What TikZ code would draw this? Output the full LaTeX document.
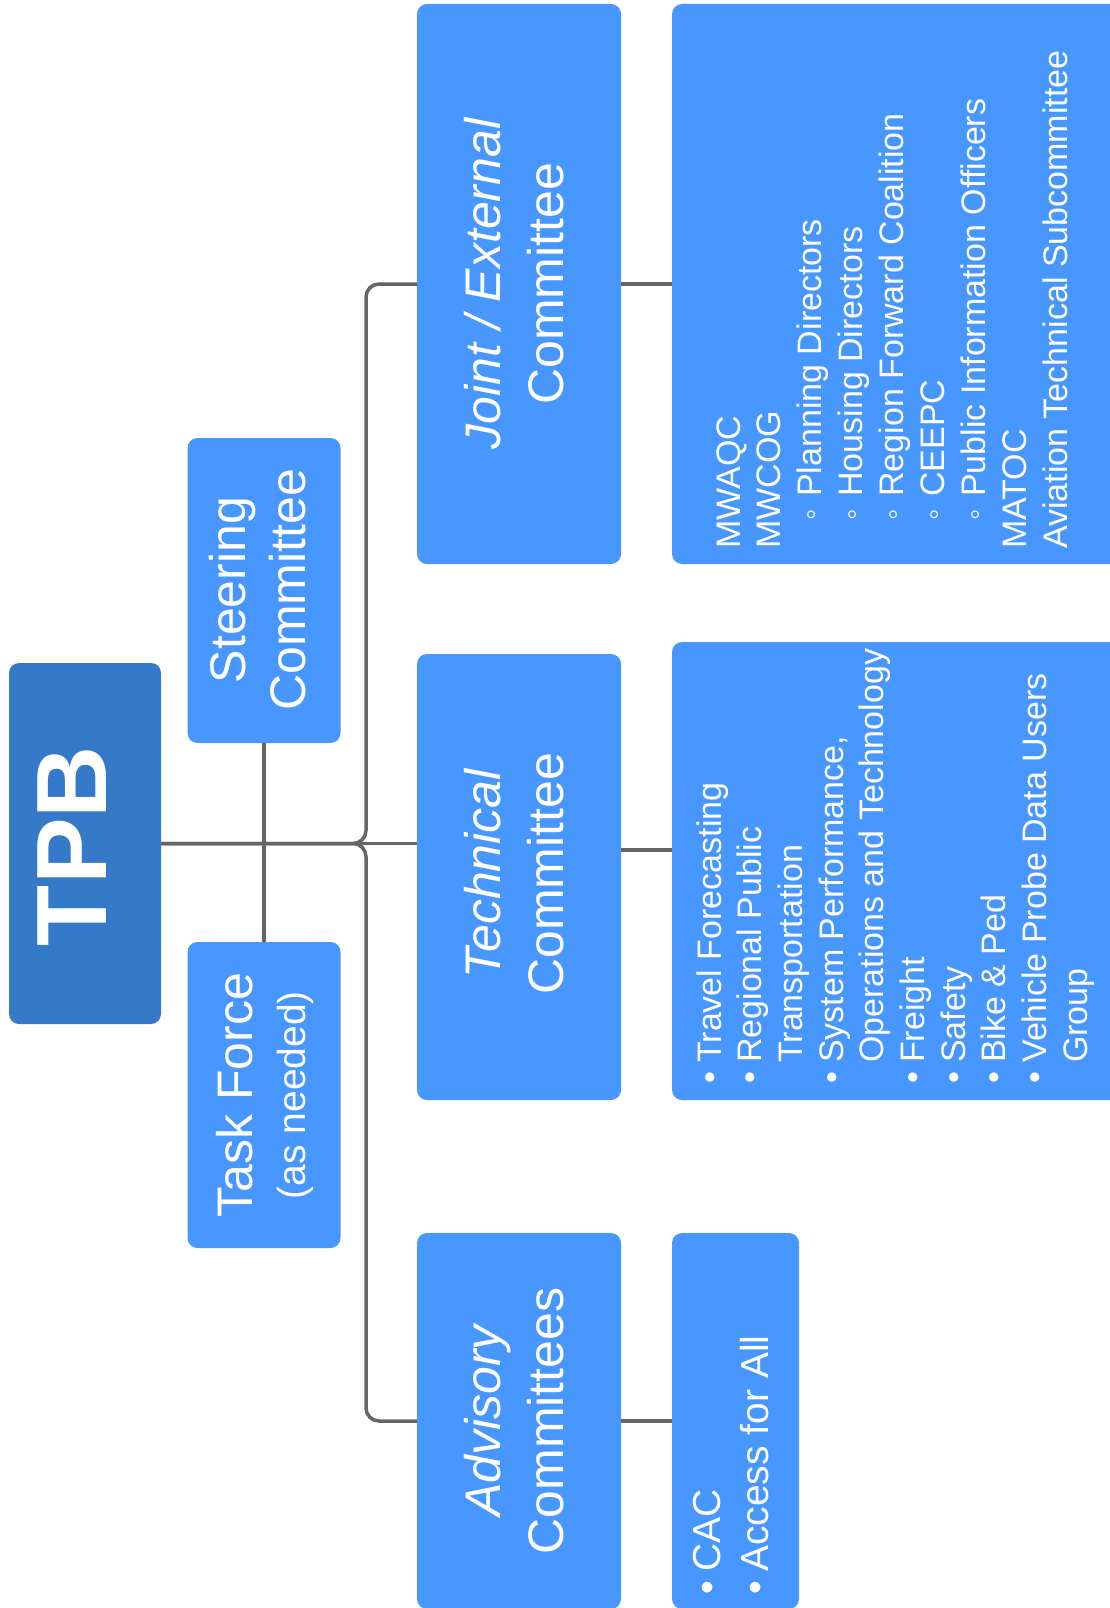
\documentclass[tikz,border=0pt]{standalone}
\usepackage{fontspec}
\setmainfont{Liberation Sans}
\definecolor{dkblue}{HTML}{3579C9}
\definecolor{ltblue}{HTML}{4897FE}
\definecolor{linegray}{HTML}{666666}
\newcommand{\subbul}{\hspace*{34pt}\makebox[0pt]{\fontsize{32}{32}\selectfont ◦}\hspace*{18pt}}
\begin{document}
\begin{tikzpicture}[x=1pt,y=-1pt,
  box/.style={fill=ltblue, rounded corners=10pt, inner sep=0pt, outer sep=0pt},
  topbox/.style={fill=dkblue, rounded corners=10pt, inner sep=0pt, outer sep=0pt},
  wtext/.style={text=white, rotate=90, inner sep=0pt},
  conn/.style={draw=linegray, line width=3.5pt},
  titlefont/.style={font=\fontsize{50}{63}\selectfont},
  listfont/.style={font=\fontsize{34}{40.9}\selectfont}]
\useasboundingbox (0,0) rectangle (1109,1608);
% boxes
\node[topbox, minimum width=152pt, minimum height=361pt] (tpb) at (85,843.5) {};
\node[box, minimum width=153pt, minimum height=305pt] (steer) at (264,590.5) {};
\node[box, minimum width=153pt, minimum height=306pt] (task) at (264,1095) {};
\node[box, minimum width=204pt, minimum height=560pt] (joint) at (519,284) {};
\node[box, minimum width=204pt, minimum height=446pt] (tech) at (519,877) {};
\node[box, minimum width=204pt, minimum height=376pt] (adv) at (519,1421) {};
\node[box, minimum width=468pt, minimum height=560pt] (jlist) at (906,284) {};
\node[box, minimum width=468pt, minimum height=458pt] (tlist) at (906,871) {};
\node[box, minimum width=127pt, minimum height=376pt] (alist) at (735.5,1421) {};
% connectors
\coordinate (bus) at (366,843.5);
\draw[conn] (tpb.east) -- (tpb.east -| tech.west);
\draw[conn, rounded corners=13pt] (joint.west) -- (joint.west -| bus) -- (bus) -- (tpb.east);
\draw[conn, rounded corners=13pt] (adv.west) -- (adv.west -| bus) -- (bus) -- (tpb.east);
\draw[conn] (steer.south) -- (task.north);
\draw[conn] (joint.east) -- (jlist.west);
\draw[conn] ([yshift=27pt]tech.east) -- ([yshift=27pt]tech.east -| tlist.west);
\draw[conn] (adv.east) -- (alist.west);
% texts
\node[wtext, anchor=base, font=\fontsize{100}{120}\selectfont\bfseries] (tpbt) at (106,846) {TPB};
\node[wtext, anchor=base, font=\fontsize{50}{60}\selectfont] (steert) at (245,590) {\begin{tabular}[t]{@{}c@{}}Steering\\Committee\end{tabular}};
\node[wtext, anchor=base, font=\fontsize{50}{60}\selectfont] (taskt) at (252,1095) {\begin{tabular}[t]{@{}c@{}}Task Force\\[-7pt]{\fontsize{39}{47}\selectfont (as needed)}\end{tabular}};
\node[wtext, anchor=base, titlefont] (jointt) at (500,284) {\begin{tabular}[t]{@{}c@{}}{\itshape Joint / External}\\Committee\end{tabular}};
\node[wtext, anchor=base, titlefont] (techt) at (500,874) {\begin{tabular}[t]{@{}c@{}}{\itshape Technical}\\Committee\end{tabular}};
\node[wtext, anchor=base, titlefont] (advt) at (500,1421) {\begin{tabular}[t]{@{}c@{}}{\itshape Advisory}\\Committees\end{tabular}};
\node[wtext, anchor=base west, listfont] (jlistt) at (740,549) {\begin{tabular}[t]{@{}l@{}}
MWAQC\\
MWCOG\\
\subbul Planning Directors\\
\subbul Housing Directors\\
\subbul Region Forward Coalition\\
\subbul CEEPC\\
\subbul Public Information Officers\\
MATOC\\
Aviation Technical Subcommittee
\end{tabular}};
\node[wtext, anchor=base west, font=\fontsize{34}{40.7}\selectfont] (tlistt) at (721,1084) {\begin{tabular}[t]{@{}l@{}}
\makebox[21pt][l]{•}Travel Forecasting\\
\makebox[21pt][l]{•}Regional Public\\
\hspace*{21pt}Transportation\\
\makebox[21pt][l]{•}System Performance,\\
\hspace*{21pt}Operations and Technology\\
\makebox[21pt][l]{•}Freight\\
\makebox[21pt][l]{•}Safety\\
\makebox[21pt][l]{•}Bike \& Ped\\
\makebox[21pt][l]{•}Vehicle Probe Data Users\\
\hspace*{21pt}Group
\end{tabular}};
\node[wtext, anchor=base west, font=\fontsize{39}{48}\selectfont] (alistt) at (720,1595) {\begin{tabular}[t]{@{}l@{}}
\makebox[23pt][l]{•}CAC\\
\makebox[23pt][l]{•}Access for All
\end{tabular}};
\end{tikzpicture}
\end{document}
